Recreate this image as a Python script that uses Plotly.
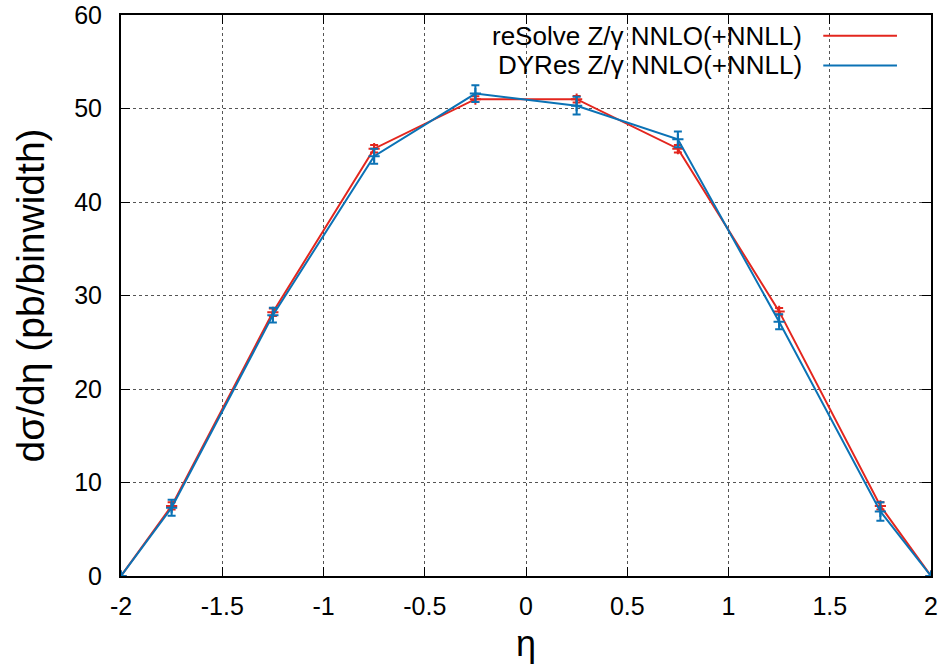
import plotly.graph_objects as go

# Rapidity bins (bin centres, with the end points at zero)
eta = [-2.0, -1.75, -1.25, -0.75, -0.25, 0.25, 0.75, 1.25, 1.75, 2.0]

# reSolve Z/gamma NNLO(+NNLL)
resolve_val = [0.0, 7.5, 28.2, 45.7, 51.0, 51.0, 45.7, 28.3, 7.5, 0.0]
resolve_err = [0.0, 0.4, 0.4, 0.4, 0.3, 0.35, 0.4, 0.35, 0.4, 0.0]

# DYRes Z/gamma NNLO(+NNLL)
dyres_val = [0.0, 7.3, 27.9, 44.9, 51.6, 50.3, 46.7, 27.2, 6.9, 0.0]
dyres_err = [0.0, 0.85, 0.8, 0.8, 0.9, 0.95, 0.85, 0.8, 1.0, 0.0]

x_ticks = [-2, -1.5, -1, -0.5, 0, 0.5, 1, 1.5, 2]
x_tick_text = ["-2", "-1.5", "-1", "-0.5", "0", "0.5", "1", "1.5", "2"]
y_ticks = [0, 10, 20, 30, 40, 50, 60]

series = [
    ("reSolve Z/γ NNLO(+NNLL)", resolve_val, resolve_err, "#e3261e"),
    ("DYRes Z/γ NNLO(+NNLL)", dyres_val, dyres_err, "#0b72b5"),
]

FONT = "Liberation Sans, Arial, Helvetica, sans-serif"

fig = go.Figure()
for name, vals, errs, col in series:
    fig.add_trace(go.Scatter(
        x=eta, y=vals, name=name, mode="lines+markers",
        line=dict(color=col, width=2),
        marker=dict(symbol="cross-thin", size=8, line=dict(color=col, width=2)),
        error_y=dict(type="data", array=errs, color=col, thickness=2, width=4),
        showlegend=False,
    ))

# Key in the upper right: right-aligned text followed by a line sample
key_rows = [0.963, 0.910]
for (name, _, _, col), yk in zip(series, key_rows):
    fig.add_annotation(xref="paper", yref="paper", x=0.843, y=yk,
                       text=name, showarrow=False, xanchor="right", yanchor="middle",
                       font=dict(family=FONT, size=26, color="black"))
    fig.add_shape(type="line", xref="paper", yref="paper",
                  x0=0.867, x1=0.958, y0=yk, y1=yk,
                  line=dict(color=col, width=2))

axis_common = dict(
    showline=True, linecolor="black", linewidth=2, mirror="allticks",
    ticks="inside", ticklen=9, tickwidth=1, tickcolor="black",
    showgrid=True, gridcolor="#555555", gridwidth=1, griddash="dot",
    zeroline=False,
    tickfont=dict(family=FONT, size=25, color="black"),
)

fig.update_xaxes(range=[-2, 2], tickvals=x_ticks, ticktext=x_tick_text,
                 title=dict(text="η", font=dict(family=FONT, size=36, color="black"), standoff=12),
                 ticklabelstandoff=7, **axis_common)
fig.update_yaxes(range=[0, 60], tickvals=y_ticks,
                 title=dict(text="dσ/dη (pb/binwidth)", font=dict(family=FONT, size=39, color="black"), standoff=18),
                 ticklabelstandoff=12, **axis_common)

fig.update_layout(
    width=943, height=669,
    margin=dict(l=121, r=12, t=15, b=93, autoexpand=False),
    plot_bgcolor="white", paper_bgcolor="white",
)

fig.write_html("out.html")
